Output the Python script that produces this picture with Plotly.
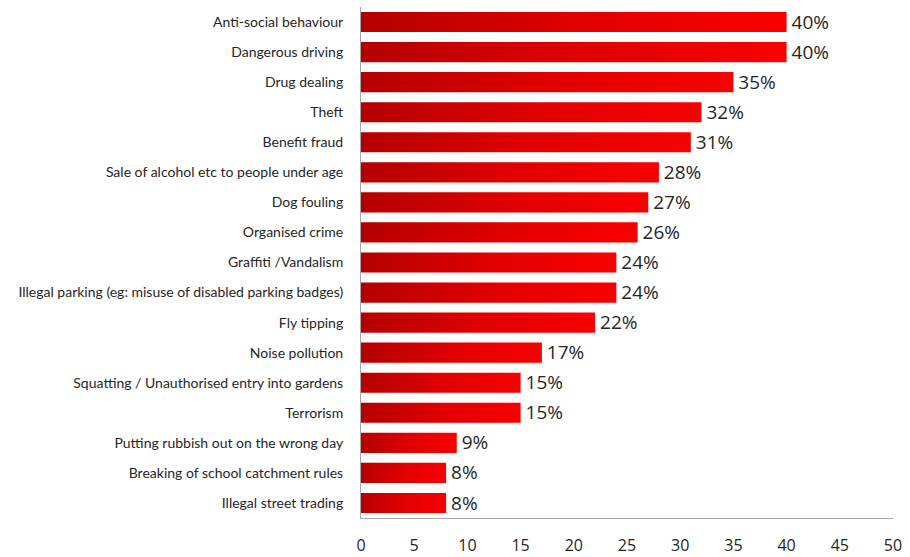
import plotly.graph_objects as go

categories = [
    "Anti-social behaviour",
    "Dangerous driving",
    "Drug dealing",
    "Theft",
    "Benefit fraud",
    "Sale of alcohol etc to people under age",
    "Dog fouling",
    "Organised crime",
    "Graffiti /Vandalism",
    "Illegal parking (eg: misuse of disabled parking badges)",
    "Fly tipping",
    "Noise pollution",
    "Squatting / Unauthorised entry into gardens",
    "Terrorism",
    "Putting rubbish out on the wrong day",
    "Breaking of school catchment rules",
    "Illegal street trading",
]
values = [40, 40, 35, 32, 31, 28, 27, 26, 24, 24, 22, 17, 15, 15, 9, 8, 8]
x_ticks = [0, 5, 10, 15, 20, 25, 30, 35, 40, 45, 50]

half = 0.335  # half bar thickness in category units
gradient = [[0, "#b40000"], [0.5, "#e00000"], [1, "#fa0000"]]

fig = go.Figure()

# each bar as a filled shape so it can carry its own left-to-right gradient
for i, v in enumerate(values):
    fig.add_trace(go.Scatter(
        x=[0, v, v, 0, 0],
        y=[i - half, i - half, i + half, i + half, i - half],
        mode="lines",
        line=dict(width=0),
        fill="toself",
        fillgradient=dict(type="horizontal", colorscale=gradient),
        hoverinfo="skip",
        showlegend=False,
    ))

# percentage labels at the bar ends
fig.add_trace(go.Scatter(
    x=values,
    y=[i + 0.06 for i in range(len(values))],
    mode="text",
    text=[f" {v}%" for v in values],
    textposition="middle right",
    textfont=dict(family="Open Sans", size=19, color="#262626"),
    hoverinfo="skip",
    showlegend=False,
))

fig.update_layout(
    width=910,
    height=557,
    margin=dict(l=361, r=17, t=7, b=39, autoexpand=False),
    paper_bgcolor="white",
    plot_bgcolor="white",
    showlegend=False,
    xaxis=dict(
        range=[0, 50],
        tickvals=x_ticks,
        ticktext=[str(t) for t in x_ticks],
        showgrid=False,
        zeroline=False,
        showline=True,
        linecolor="#a6a6a6",
        linewidth=1,
        ticks="",
        ticklabelstandoff=13,
        tickfont=dict(family="Open Sans", size=16, color="#262626"),
        automargin=False,
        fixedrange=True,
    ),
    yaxis=dict(
        range=[len(values) - 0.5, -0.5],
        tickvals=list(range(len(categories))),
        ticktext=categories,
        showgrid=False,
        zeroline=False,
        showline=True,
        linecolor="#a6a6a6",
        linewidth=1,
        ticks="",
        ticklabelstandoff=14,
        tickfont=dict(family="Lato", size=14, color="#262626"),
        automargin=False,
        fixedrange=True,
    ),
)

fig.write_html("out.html")
